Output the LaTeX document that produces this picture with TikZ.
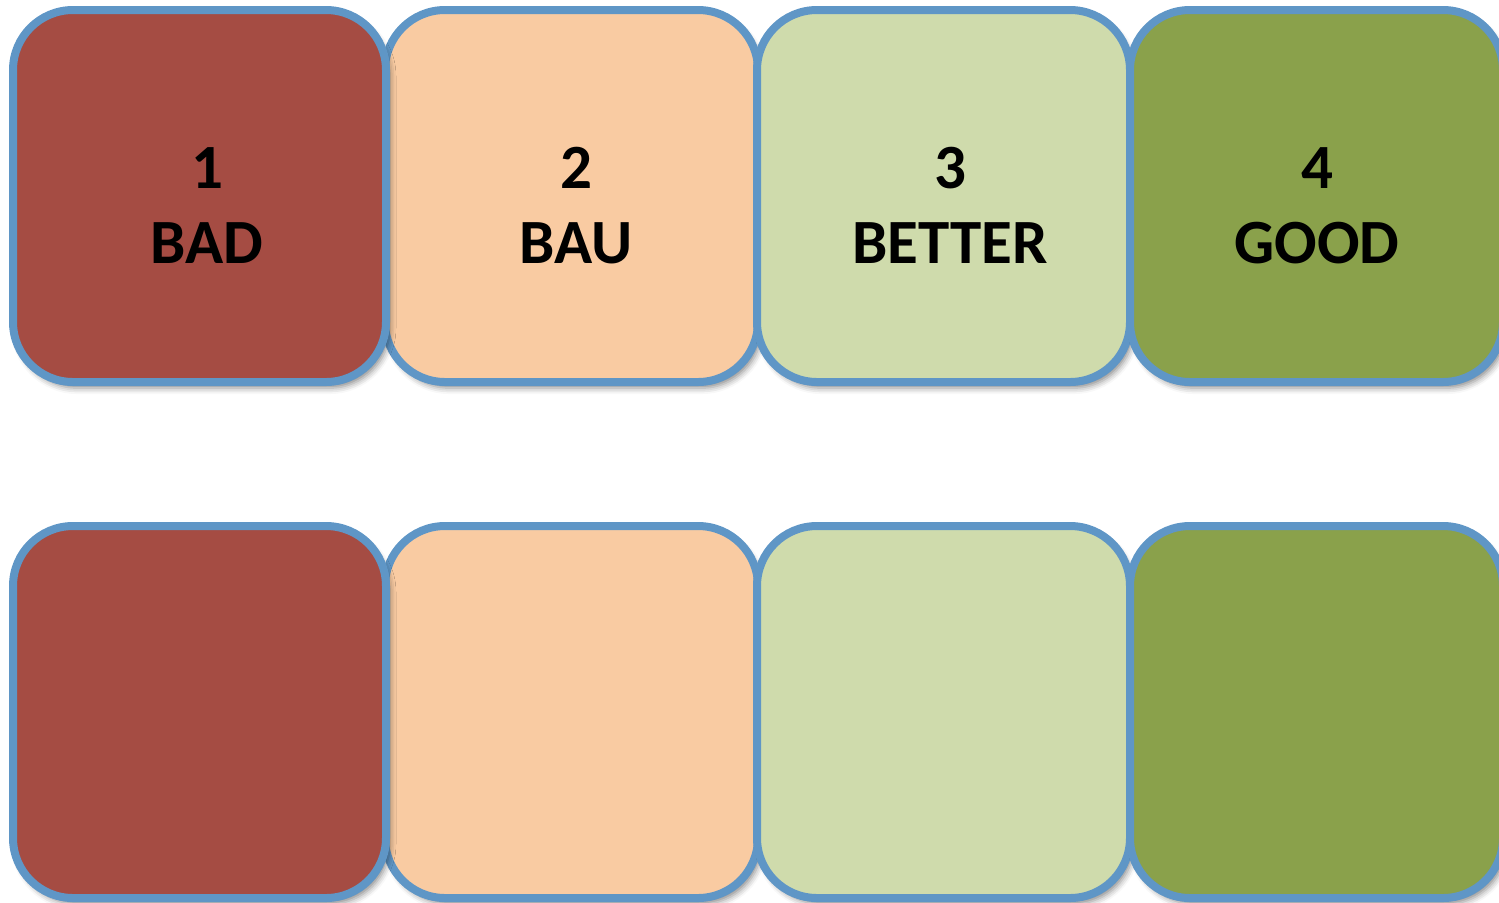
\documentclass[tikz,border=0pt]{standalone}
\usepackage{fontspec}
\setmainfont{Carlito}
\usetikzlibrary{shadows.blur}
\definecolor{cbad}{HTML}{A54C43}
\definecolor{cbau}{HTML}{F9CBA2}
\definecolor{cbetter}{HTML}{CFDBAC}
\definecolor{cgood}{HTML}{8AA14B}
\definecolor{cedge}{HTML}{5F96C6}
\tikzset{
  tile/.style={draw=cedge, line width=4pt, rounded corners=30pt, inner sep=0pt,
    minimum width=186.5pt, minimum height=186pt,
    blur shadow={shadow xshift=2pt, shadow yshift=-3pt, shadow blur radius=3pt, shadow opacity=45}},
  lbl/.style={font=\fontsize{31.5}{37}\selectfont\bfseries, text=black, anchor=base, inner sep=0pt}
}
\begin{document}
\begin{tikzpicture}[x=0.5pt,y=-0.5pt]
\useasboundingbox (0,0) rectangle (1499,902);
\clip (0,0) rectangle (1499,902);
% top row
\node[tile, fill=cbau]    (t2) at (571.5,196) {};
\node[tile, fill=cbad]    (t1) at (199.5,196) {};
\node[tile, fill=cbetter] (t3) at (943.5,196) {};
\node[tile, fill=cgood]   (t4) at (1316.5,196) {};
\node[lbl] (n1) at (207,188) {1};
\node[lbl] (w1) at (207,263) {BAD};
\node[lbl] (n2) at (576,188) {2};
\node[lbl] (w2) at (576,263) {BAU};
\node[lbl] (n3) at (950,188) {3};
\node[lbl] (w3) at (950,263) {BETTER};
\node[lbl] (n4) at (1317,188) {4};
\node[lbl] (w4) at (1317,263) {GOOD};
% bottom row
\node[tile, fill=cbau]    (b2) at (571.5,712) {};
\node[tile, fill=cbad]    (b1) at (199.5,712) {};
\node[tile, fill=cbetter] (b3) at (943.5,712) {};
\node[tile, fill=cgood]   (b4) at (1316.5,712) {};
\end{tikzpicture}
\end{document}
